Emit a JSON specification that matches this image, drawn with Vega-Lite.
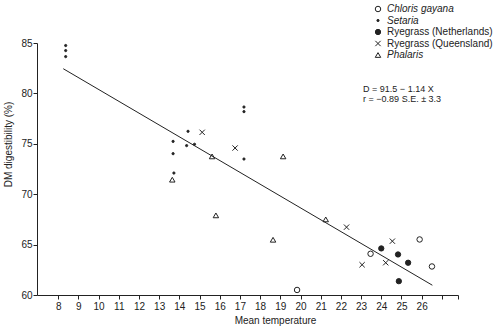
{
  "$schema": "https://vega.github.io/schema/vega-lite/v6.json",
  "width": 421,
  "height": 252,
  "autosize": {"type": "none"},
  "padding": {"left": 37, "top": 43, "right": 42, "bottom": 37},
  "background": "white",
  "config": {
    "view": {"stroke": null},
    "font": "Liberation Sans",
    "axis": {
      "grid": false,
      "domainColor": "#222",
      "tickColor": "#222",
      "labelColor": "#222",
      "titleColor": "#222",
      "labelFont": "Liberation Sans",
      "titleFont": "Liberation Sans",
      "labelFontSize": 10,
      "titleFontSize": 10,
      "titleFontWeight": "normal",
      "tickSize": 4,
      "labelOverlap": false
    },
    "legend": {
      "title": null, "orient": "none", "legendX": 336, "legendY": -39, "labelFontSize": 10, "labelColor": "#222",
      "labelFont": "Liberation Sans", "rowPadding": 1.5, "clipHeight": 10, "symbolStrokeWidth": 1, "labelOffset": 4,
      "labelFontStyle": {"expr": "indexof(['Chloris gayana','Setaria','Phalaris'], datum.value) >= 0 ? 'italic' : 'normal'"}
    }
  },
  "datasets": {
    "pts": [
      {"temp": 8.37, "dmd": 84.75, "grass": "Setaria"},
      {"temp": 8.37, "dmd": 84.25, "grass": "Setaria"},
      {"temp": 8.37, "dmd": 83.65, "grass": "Setaria"},
      {"temp": 13.69, "dmd": 75.24, "grass": "Setaria"},
      {"temp": 13.69, "dmd": 74.02, "grass": "Setaria"},
      {"temp": 14.43, "dmd": 76.24, "grass": "Setaria"},
      {"temp": 14.36, "dmd": 74.82, "grass": "Setaria"},
      {"temp": 14.75, "dmd": 74.95, "grass": "Setaria"},
      {"temp": 17.2, "dmd": 78.65, "grass": "Setaria"},
      {"temp": 17.2, "dmd": 78.19, "grass": "Setaria"},
      {"temp": 17.2, "dmd": 73.49, "grass": "Setaria"},
      {"temp": 13.73, "dmd": 72.1, "grass": "Setaria"},
      {"temp": 15.13, "dmd": 76.14, "grass": "Ryegrass (Queensland)"},
      {"temp": 16.76, "dmd": 74.58, "grass": "Ryegrass (Queensland)"},
      {"temp": 22.28, "dmd": 66.73, "grass": "Ryegrass (Queensland)"},
      {"temp": 24.55, "dmd": 65.34, "grass": "Ryegrass (Queensland)"},
      {"temp": 23.05, "dmd": 63.0, "grass": "Ryegrass (Queensland)"},
      {"temp": 24.22, "dmd": 63.2, "grass": "Ryegrass (Queensland)"},
      {"temp": 15.62, "dmd": 73.75, "grass": "Phalaris"},
      {"temp": 13.65, "dmd": 71.44, "grass": "Phalaris"},
      {"temp": 15.81, "dmd": 67.9, "grass": "Phalaris"},
      {"temp": 19.14, "dmd": 73.75, "grass": "Phalaris"},
      {"temp": 21.25, "dmd": 67.5, "grass": "Phalaris"},
      {"temp": 18.64, "dmd": 65.48, "grass": "Phalaris"},
      {"temp": 19.83, "dmd": 60.5, "grass": "Chloris gayana"},
      {"temp": 23.47, "dmd": 64.09, "grass": "Chloris gayana"},
      {"temp": 25.9, "dmd": 65.51, "grass": "Chloris gayana"},
      {"temp": 26.51, "dmd": 62.83, "grass": "Chloris gayana"},
      {"temp": 24.0, "dmd": 64.62, "grass": "Ryegrass (Netherlands)"},
      {"temp": 24.83, "dmd": 64.02, "grass": "Ryegrass (Netherlands)"},
      {"temp": 25.33, "dmd": 63.2, "grass": "Ryegrass (Netherlands)"},
      {"temp": 24.87, "dmd": 61.37, "grass": "Ryegrass (Netherlands)"}
    ],
    "fit": [
      {"temp": 8.25, "dmd": 82.45},
      {"temp": 26.53, "dmd": 60.97}
    ]
  },
  "layer": [
    {
      "data": {"name": "fit"},
      "mark": {"type": "line", "color": "#222", "strokeWidth": 1},
      "encoding": {
        "x": {"field": "temp", "type": "quantitative", "scale": {"domain": [6.95, 27.8], "nice": false, "zero": false},
          "axis": {"title": "Mean temperature", "values": [8,9,10,11,12,13,14,15,16,17,18,19,20,21,22,23,24,25,26,27,27.8], "tickCount": 40,
            "format": "d", "labelExpr": "datum.value <= 26 ? datum.label : ''", "labelOverlap": false, "labelPadding": 2, "titlePadding": 4, "titleX": 238}},
        "y": {"field": "dmd", "type": "quantitative", "scale": {"domain": [60, 85], "nice": false, "zero": false},
          "axis": {"title": "DM digestibility (%)", "values": [60,65,70,75,80,85], "tickCount": 10, "labelPadding": 1, "titlePadding": 7, "titleY": 101}}
      }
    },
    {
      "data": {"name": "pts"},
      "mark": {"type": "point", "filled": false, "strokeWidth": 1, "opacity": 1},
      "encoding": {
        "x": {"field": "temp", "type": "quantitative", "scale": {"domain": [6.95, 27.8], "nice": false, "zero": false}},
        "y": {"field": "dmd", "type": "quantitative", "scale": {"domain": [60, 85], "nice": false, "zero": false}},
        "shape": {"field": "grass", "type": "nominal",
          "scale": {"domain": ["Chloris gayana", "Setaria", "Ryegrass (Netherlands)", "Ryegrass (Queensland)", "Phalaris"],
            "range": ["circle", "circle", "circle", "M-1,-1L1,1M1,-1L-1,1", "triangle-up"]}},
        "fill": {"field": "grass", "type": "nominal",
          "scale": {"domain": ["Chloris gayana", "Setaria", "Ryegrass (Netherlands)", "Ryegrass (Queensland)", "Phalaris"],
            "range": ["transparent", "#222", "#222", "transparent", "transparent"]}},
        "stroke": {"field": "grass", "type": "nominal",
          "scale": {"domain": ["Chloris gayana", "Setaria", "Ryegrass (Netherlands)", "Ryegrass (Queensland)", "Phalaris"],
            "range": ["#222", "#222", "#222", "#222", "#222"]}},
        "size": {"field": "grass", "type": "nominal",
          "scale": {"type": "ordinal", "domain": ["Chloris gayana", "Setaria", "Ryegrass (Netherlands)", "Ryegrass (Queensland)", "Phalaris"],
            "range": [30, 5, 28, 28, 30]}}
      }
    },
    {
      "data": {"values": [{}]},
      "mark": {"type": "text", "text": ["D = 91.5 − 1.14 X", "r = −0.89 S.E. ± 3.3"], "align": "left", "baseline": "top",
        "fontSize": 9, "lineHeight": 10, "font": "Liberation Sans", "color": "#222"},
      "encoding": {
        "x": {"datum": 23.1, "type": "quantitative"},
        "y": {"datum": 80.8, "type": "quantitative"}
      }
    }
  ]
}
